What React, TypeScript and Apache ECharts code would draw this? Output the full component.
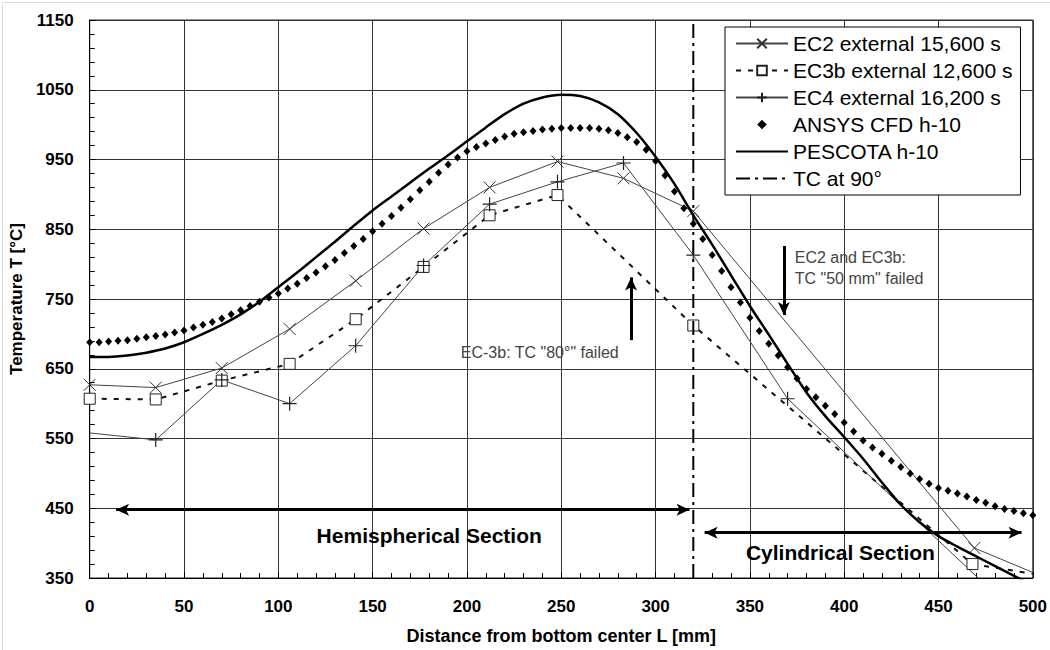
import React, { useEffect, useRef } from "react";
import * as echarts from "echarts";

const FONT = "'Liberation Sans', Arial, Helvetica, sans-serif";

// X ticks and Y ticks
const X_MIN = 0;
const X_MAX = 500;
const X_STEP = 50;
const Y_MIN = 350;
const Y_MAX = 1150;
const Y_STEP = 100;

// Experimental series: [distance mm, temperature °C]
const EC2_POINTS = [
  [0, 627], [35, 623], [70, 651], [106, 707], [141, 776], [177, 851],
  [212, 910], [248, 947], [283, 923], [320, 876], [469, 393],
];
const EC2_TAIL = [500, 358];

const EC3B_POINTS = [
  [0, 607], [35, 606], [70, 633], [106, 657], [141, 721], [177, 796],
  [212, 870], [248, 899], [320, 712], [468, 370],
];
const EC3B_TAIL = [500, 356];

const EC4_HEAD = [0, 558];
const EC4_POINTS = [
  [35, 548], [70, 634], [106, 600], [141, 683], [177, 798], [212, 886],
  [248, 918], [283, 945], [320, 813], [370, 607],
];
const EC4_TAIL = [475, 340];

// ANSYS CFD h-10 (read every 5 mm)
const ANSYS = [
  [0, 688], [5, 688], [10, 689], [15, 690], [20, 691], [25, 693], [30, 695], [35, 697],
  [40, 699], [45, 702], [50, 705], [55, 709], [60, 713], [65, 717], [70, 722], [75, 728],
  [80, 734], [85, 740], [90, 746], [95, 752], [100, 758], [105, 765], [110, 772], [115, 780],
  [120, 788], [125, 797], [130, 806], [135, 816], [140, 826], [145, 836], [150, 847],
  [155, 858], [160, 869], [165, 881], [170, 893], [175, 906], [180, 918], [185, 931],
  [190, 943], [195, 953], [200, 962], [205, 968], [210, 973], [215, 978], [220, 983],
  [225, 987], [230, 989], [235, 991], [240, 993], [245, 994], [250, 995], [255, 995],
  [260, 995], [265, 995], [270, 994], [275, 992], [280, 988], [285, 982], [290, 975],
  [295, 964], [300, 948], [305, 927], [310, 904], [315, 880], [320, 858], [325, 836],
  [330, 813], [335, 790], [340, 767], [345, 745], [350, 723], [355, 704], [360, 686],
  [365, 669], [370, 652], [375, 636], [380, 621], [385, 609], [390, 597], [395, 585],
  [400, 573], [405, 560], [410, 547], [415, 537], [420, 528], [425, 518], [430, 509],
  [435, 500], [440, 492], [445, 485], [450, 479], [455, 475], [460, 471], [465, 467],
  [470, 462], [475, 458], [480, 453], [485, 449], [490, 446], [495, 443], [500, 440],
];

// PESCOTA h-10 (read every 10 mm)
const PESCOTA = [
  [0, 667], [10, 667], [20, 669], [30, 673], [40, 679], [50, 688], [60, 700], [70, 713],
  [80, 728], [90, 746], [100, 767], [110, 788], [120, 810], [130, 832], [140, 855],
  [150, 877], [160, 897], [170, 917], [180, 937], [190, 956], [200, 976], [210, 996],
  [220, 1015], [230, 1030], [240, 1039], [250, 1043], [260, 1041], [270, 1032],
  [280, 1015], [290, 988], [300, 954], [310, 915], [320, 870], [330, 828], [340, 784],
  [350, 740], [360, 699], [370, 657], [380, 616], [390, 582], [400, 552], [410, 521],
  [420, 487], [430, 455], [440, 430], [450, 410], [460, 395], [470, 381], [480, 367],
  [490, 353], [500, 340],
];

// Thermocouple position at 90°
const TC_X = 320;

const NAMES = [
  "EC2 external 15,600 s",
  "EC3b external 12,600 s",
  "EC4 external 16,200 s",
  "ANSYS CFD h-10",
  "PESCOTA h-10",
  "TC at 90°",
];

// Annotation anchors (data coordinates)
const HEMI_ARROW = [[14, 448], [318, 448]];
const CYL_ARROW = [[326, 415], [494, 415]];
const EC3B_FAIL_ARROW = [[287, 691], [287, 781]];
const EC2_FAIL_ARROW = [[368, 826], [368, 727]];
const HEMI_TEXT = [180, 411];
const CYL_TEXT = [398, 387];
const EC3B_TEXT = [238.6, 673];
const EC2_TEXT = [373.5, 794];

const X_SYMBOL = "path://M0,0L10,10M10,0L0,10";
const PLUS_SYMBOL = "path://M5,0L5,10M0,5L10,5";

export default function App() {
  const ref = useRef<HTMLDivElement>(null);

  useEffect(() => {
    if (!ref.current) return;
    const chart = echarts.init(ref.current, null, { renderer: "svg" });
    const W = chart.getWidth();
    const H = chart.getHeight();

    const noSym = (p: number[]) => ({ value: p, symbol: "none" });

    const option: any = {
      animation: false,
      backgroundColor: "#fff",
      textStyle: { fontFamily: FONT },
      graphic: [
        {
          type: "rect",
          left: 0,
          top: 0,
          silent: true,
          shape: { width: W - 1, height: H - 1 },
          style: { fill: "none", stroke: "#dcdcdc", lineWidth: 1 },
        },
      ],
      grid: {
        left: 89,
        right: 16,
        top: 20,
        bottom: 65,
        show: true,
        borderColor: "#222",
        borderWidth: 1,
        containLabel: false,
      },
      legend: {
        orient: "vertical",
        left: 725,
        top: 27,
        padding: [6, 8, 6, 10],
        itemGap: 6,
        itemWidth: 52,
        itemHeight: 12,
        backgroundColor: "#fff",
        borderColor: "#000",
        borderWidth: 1,
        borderRadius: 0,
        selectedMode: false,
        textStyle: { fontSize: 21, fontFamily: FONT, color: "#000", lineHeight: 21 },
        data: NAMES,
      },
      xAxis: {
        type: "value",
        min: X_MIN,
        max: X_MAX,
        interval: X_STEP,
        name: "Distance from bottom center L [mm]",
        nameLocation: "middle",
        nameGap: 49,
        nameTextStyle: { fontSize: 18, fontWeight: "bold", color: "#000", fontFamily: FONT },
        axisLine: { lineStyle: { color: "#000", width: 1 } },
        axisTick: { inside: true, length: 6, lineStyle: { color: "#000" } },
        minorTick: { show: true, splitNumber: 5, length: 5, lineStyle: { color: "#000" } },
        axisLabel: { fontSize: 17, fontWeight: "bold", color: "#000", margin: 20, fontFamily: FONT },
        splitLine: { show: true, lineStyle: { color: "#333", width: 1 } },
      },
      yAxis: {
        type: "value",
        min: Y_MIN,
        max: Y_MAX,
        interval: Y_STEP,
        name: "Temperature T [°C]",
        nameLocation: "middle",
        nameGap: 62,
        nameTextStyle: { fontSize: 17, fontWeight: "bold", color: "#000", fontFamily: FONT },
        axisLine: { show: true, lineStyle: { color: "#000", width: 1 } },
        axisTick: { inside: true, length: 6, lineStyle: { color: "#000" } },
        minorTick: { show: true, splitNumber: 5, length: 5, lineStyle: { color: "#000" } },
        axisLabel: {
          fontSize: 17, fontWeight: "bold", color: "#000", margin: 16, fontFamily: FONT,
          formatter: (v: number) => String(v),
        },
        splitLine: { show: true, lineStyle: { color: "#333", width: 1 } },
      },
      series: [
        {
          name: NAMES[0],
          type: "line",
          data: [...EC2_POINTS, noSym(EC2_TAIL)],
          symbol: X_SYMBOL,
          symbolSize: 12,
          showAllSymbol: true,
          lineStyle: { color: "#444", width: 1 },
          itemStyle: { color: "transparent", borderColor: "#333", borderWidth: 1 },
          z: 3,
        },
        {
          name: NAMES[1],
          type: "line",
          data: [...EC3B_POINTS, noSym(EC3B_TAIL)],
          symbol: "rect",
          symbolSize: 11,
          showAllSymbol: true,
          lineStyle: { color: "#111", width: 2, type: [5, 7] },
          itemStyle: { color: "#fff", borderColor: "#222", borderWidth: 1 },
          z: 3,
        },
        {
          name: NAMES[2],
          type: "line",
          data: [noSym(EC4_HEAD), ...EC4_POINTS, noSym(EC4_TAIL)],
          symbol: PLUS_SYMBOL,
          symbolSize: 14,
          showAllSymbol: true,
          lineStyle: { color: "#444", width: 1 },
          itemStyle: { color: "transparent", borderColor: "#222", borderWidth: 1.2 },
          z: 3,
        },
        {
          name: NAMES[3],
          type: "line",
          data: ANSYS,
          symbol: "diamond",
          symbolSize: [7, 8],
          showAllSymbol: true,
          lineStyle: { color: "#000", width: 0, opacity: 0 },
          itemStyle: { color: "#000" },
          z: 4,
        },
        {
          name: NAMES[4],
          type: "line",
          data: PESCOTA,
          smooth: 0.3,
          symbol: "circle",
          showSymbol: false,
          lineStyle: { color: "#000", width: 2.5 },
          itemStyle: { color: "transparent" },
          z: 5,
        },
        {
          name: NAMES[5],
          type: "line",
          data: [[TC_X, Y_MIN], [TC_X, Y_MAX]],
          symbol: "circle",
          showSymbol: false,
          lineStyle: { color: "#000", width: 2, type: [14, 5, 3, 5] },
          itemStyle: { color: "transparent" },
          z: 6,
          markLine: {
            silent: true,
            animation: false,
            label: { show: false },
            symbol: ["arrow", "arrow"],
            symbolSize: [9, 13],
            lineStyle: { color: "#000", width: 3, type: "solid" },
            emphasis: { disabled: true },
            data: [
              [{ coord: HEMI_ARROW[0] }, { coord: HEMI_ARROW[1] }],
              [{ coord: CYL_ARROW[0] }, { coord: CYL_ARROW[1] }],
              [{ coord: EC3B_FAIL_ARROW[0], symbol: "none" }, { coord: EC3B_FAIL_ARROW[1] }],
              [{ coord: EC2_FAIL_ARROW[0], symbol: "none" }, { coord: EC2_FAIL_ARROW[1] }],
            ],
          },
          markPoint: {
            silent: true,
            animation: false,
            symbol: "circle",
            symbolSize: 1,
            itemStyle: { color: "transparent" },
            data: [
              {
                coord: HEMI_TEXT,
                label: {
                  show: true, position: "inside", formatter: "Hemispherical Section",
                  fontSize: 21, fontWeight: "bold", color: "#000", fontFamily: FONT,
                },
              },
              {
                coord: CYL_TEXT,
                label: {
                  show: true, position: "inside", formatter: "Cylindrical Section",
                  fontSize: 21, fontWeight: "bold", color: "#000", fontFamily: FONT,
                },
              },
              {
                coord: EC3B_TEXT,
                label: {
                  show: true, position: "inside", formatter: 'EC-3b: TC "80°" failed',
                  fontSize: 16, color: "#444", fontFamily: FONT,
                },
              },
              {
                coord: EC2_TEXT,
                label: {
                  show: true, position: "right", distance: 0, align: "left",
                  formatter: 'EC2 and EC3b:\nTC "50 mm" failed',
                  fontSize: 16, lineHeight: 21, color: "#444", fontFamily: FONT,
                },
              },
            ],
          },
        },
      ],
    };

    chart.setOption(option);
    return () => chart.dispose();
  }, []);

  return (
    <div
      ref={ref}
      style={{ position: "absolute", left: 0, top: 0, width: 1050, height: 650, background: "#fff" }}
    />
  );
}
